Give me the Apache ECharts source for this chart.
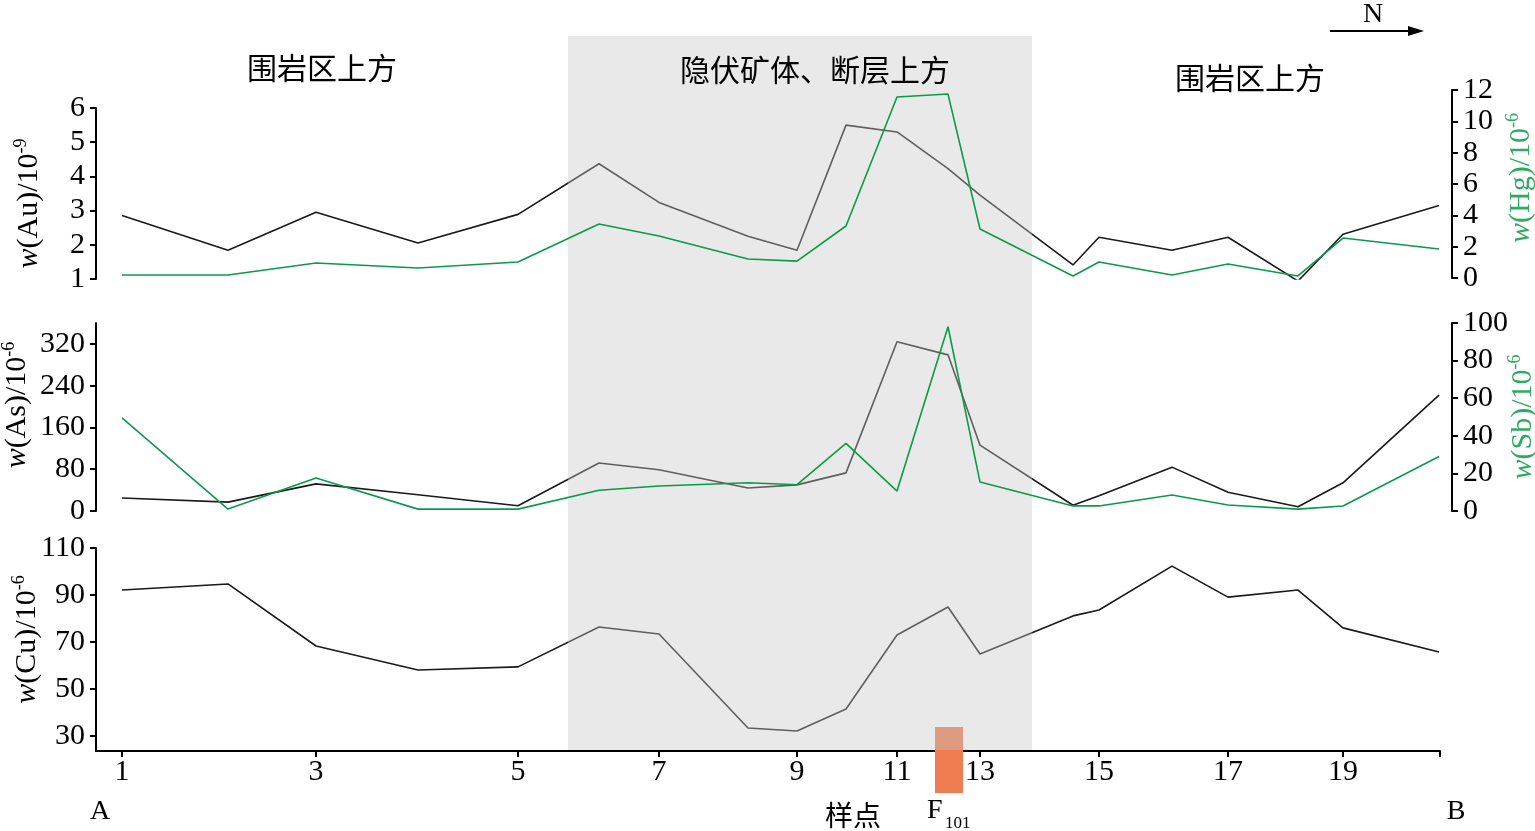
<!DOCTYPE html>
<html><head><meta charset="utf-8">
<script src="https://cdn.jsdelivr.net/npm/echarts@6/dist/echarts.min.js"></script>
<style>html,body{margin:0;padding:0;background:#fff}#c{width:1535px;height:831px}</style>
</head><body><div id="c"></div>
<script>
// ---- data ----
const sampleNo   = [1,2,3,4,5,6,7,8,9,10,11,12,13,14,15,16,17,18,19,20];
const sampleDist = [26,132,220,322,422,503,563,652,701,750,801,852,884,977,1003,1076,1132,1202,1247,1343];
const tickSamples = [1,3,5,7,9,11,13,15,17,19];
const au = [2.86,1.84,2.95,2.05,2.89,4.37,3.24,2.25,1.84,5.5,5.3,4.23,3.45,1.41,2.22,1.84,2.22,0.94,2.31,3.15];
const hg = [0.19,0.19,0.96,0.64,1.02,3.45,2.68,1.21,1.08,3.32,11.55,11.74,3.13,0.13,1.02,0.19,0.89,0.13,2.55,1.85];
const as = [25,17,52,31,10,92,79,44,50,73,324,299,126,11,29,84,36,8,54,222];
const sb = [49.5,1,17.5,1,1,11,13.3,15,14,36,10.6,98,15.4,2.7,2.7,8.5,3.2,1,2.7,29];
const cu = [92.1,94.7,68.3,58.1,59.4,76.4,73.4,33.4,32.1,41.5,73,84.9,64.9,81.1,83.6,102.3,89.1,92.1,76,65.7];
const auTicks = [1,2,3,4,5,6];
const hgTicks = [0,2,4,6,8,10,12];
const asTicks = [0,80,160,240,320];
const sbTicks = [0,20,40,60,80,100];
const cuTicks = [30,50,70,90,110];
const bandRange = [472, 936];   // hidden ore body / fault zone (distance)
const faultRange = [839, 867];  // F101
const zoneLabels = ['围岩区上方','隐伏矿体、断层上方','围岩区上方'];

// ---- style ----
const SERIF = '"Liberation Serif","Times New Roman",serif';
const CJK = '"Noto Sans CJK SC","Noto Sans CJK JP",sans-serif';
const BLACK = '#1a1a1a', GREEN = '#0b9a4a', NAMEGREEN = '#2faa63';
const FS = 30;
const X0 = 96, XW = 1344, XMAX = 1344;

const pts = v => v.map((y,i)=>[sampleDist[i], y]);

function nameStyle(color, pad){
  return {
    fontFamily: SERIF, fontSize: FS, color: color, padding: pad,
    rich: {
      n: {fontFamily: SERIF, fontSize: FS, color: color, lineHeight: 34},
      i: {fontFamily: SERIF, fontSize: FS, color: color, fontStyle: 'italic', lineHeight: 34},
      s: {fontFamily: SERIF, fontSize: 18, color: color, verticalAlign: 'top', lineHeight: 18}
    }
  };
}
function yAx(grid, pos, min, max, ticks, name, color, gap, pad, offset){
  return {
    type: 'value', gridIndex: grid, position: pos, min: min, max: max, offset: offset || 0,
    splitLine: {show: false},
    axisLine: {show: true, onZero: false, lineStyle: {color: '#000', width: 2}},
    axisTick: {show: true, length: 6, lineStyle: {color: '#000', width: 2}, customValues: ticks},
    axisLabel: {fontFamily: SERIF, fontSize: FS, color: '#000', margin: 11, customValues: ticks},
    name: name, nameLocation: 'middle', nameRotate: 90, nameGap: gap, nameMoveOverlap: false,
    nameTextStyle: nameStyle(color, pad)
  };
}
function xAx(grid, show){
  return {
    type: 'value', gridIndex: grid, min: 0, max: XMAX, show: show,
    splitLine: {show: false},
    axisLine: {show: true, onZero: false, lineStyle: {color: '#000', width: 2}},
    axisTick: {show: true, length: 6, lineStyle: {color: '#000', width: 2},
      customValues: tickSamples.map(s => sampleDist[s-1]).concat([XMAX])},
    axisLabel: {fontFamily: SERIF, fontSize: FS, color: '#000', margin: 6,
      customValues: tickSamples.map(s => sampleDist[s-1]),
      formatter: v => String(sampleNo[sampleDist.indexOf(v)])}
  };
}
function line(xi, yi, data, color, z){
  return {type: 'line', xAxisIndex: xi, yAxisIndex: yi, data: pts(data), symbol: 'none',
    lineStyle: {color: color, width: 1.6}, z: z, silent: true};
}
function rectSeries(xi, yi, range, fill, z){
  return {
    type: 'custom', xAxisIndex: xi, yAxisIndex: yi, z: z, silent: true,
    data: [[range[0], range[1], 0]], encode: {x: [0,1], y: 2},
    renderItem: function(params, api){
      const a = api.coord([api.value(0), 0])[0];
      const b = api.coord([api.value(1), 0])[0];
      const cs = params.coordSys;
      return {type: 'rect', shape: {x: a, y: cs.y, width: b - a, height: cs.height}, style: {fill: fill}};
    }
  };
}
function grid(top, height){
  return {left: X0, width: XW, top: top, height: height, containLabel: false, outerBoundsMode: 'none'};
}

const chart = echarts.init(document.getElementById('c'), null, {renderer: 'canvas'});
chart.setOption({
  animation: false,
  backgroundColor: '#fff',
  grid: [
    grid(108, 171),   // Au
    grid(90, 188),    // Hg
    grid(323, 188),   // As / Sb
    grid(548, 203),   // Cu
    grid(36, 714),    // band overlay
    grid(727, 66)     // F101 overlay
  ],
  xAxis: [xAx(0,false), xAx(1,false), xAx(2,false), xAx(3,true), xAx(4,false), xAx(5,false)],
  yAxis: [
    yAx(0,'left',1,6,auTicks,'{i|w}{n|(Au)/10}{s|-9}','#000',50,[0,20,0,0]),
    yAx(1,'right',0,12,hgTicks,'{i|w}{n|(Hg)/10}{s|-6}',NAMEGREEN,52,[0,0,0,12],12),
    yAx(2,'left',0,360,asTicks,'{i|w}{n|(As)/10}{s|-6}','#000',62,[0,0,0,24]),
    yAx(2,'right',0,100,sbTicks,'{i|w}{n|(Sb)/10}{s|-6}',NAMEGREEN,54,[0,0,0,0],12),
    yAx(3,'left',23.6,110,cuTicks,'{i|w}{n|(Cu)/10}{s|-6}','#000',52,[0,0,0,20]),
    {type:'value', gridIndex:4, min:0, max:1, show:false},
    {type:'value', gridIndex:5, min:0, max:1, show:false}
  ],
  series: [
    rectSeries(5, 6, faultRange, '#ef7d52', 1),
    line(0, 0, au, BLACK, 2),
    line(2, 2, as, BLACK, 2),
    line(3, 4, cu, BLACK, 2),
    rectSeries(4, 5, bandRange, 'rgba(200,200,200,0.4)', 3),
    line(1, 1, hg, GREEN, 4),
    line(2, 3, sb, GREEN, 4)
  ],
  graphic: [
    {type:'text', x:322, y:68, style:{text:zoneLabels[0], font:'30px '+CJK, fill:'#000', align:'center', verticalAlign:'middle'}},
    {type:'text', x:815, y:70, z:10, style:{text:zoneLabels[1], font:'30px '+CJK, fill:'#000', align:'center', verticalAlign:'middle'}},
    {type:'text', x:1250, y:78, style:{text:zoneLabels[2], font:'30px '+CJK, fill:'#000', align:'center', verticalAlign:'middle'}},
    {type:'text', x:1373, y:15, style:{text:'N', font:'28px '+SERIF, fill:'#000', align:'center', verticalAlign:'middle'}},
    {type:'line', shape:{x1:1330, y1:31, x2:1412, y2:31}, style:{stroke:'#000', lineWidth:2}},
    {type:'polygon', shape:{points:[[1424,31],[1408,26],[1408,36]]}, style:{fill:'#000'}},
    {type:'text', x:100, y:812, style:{text:'A', font:'28px '+SERIF, fill:'#000', align:'center', verticalAlign:'middle'}},
    {type:'text', x:1456, y:812, style:{text:'B', font:'28px '+SERIF, fill:'#000', align:'center', verticalAlign:'middle'}},
    {type:'text', x:853, y:815, style:{text:'样点', font:'28px '+CJK, fill:'#000', align:'center', verticalAlign:'middle'}},
    {type:'text', x:927, y:797, style:{text:'F', font:'28px '+SERIF, fill:'#000', align:'left', verticalAlign:'top'}},
    {type:'text', x:945, y:815, style:{text:'101', font:'17px '+SERIF, fill:'#000', align:'left', verticalAlign:'top'}}
  ]
});
</script></body></html>
